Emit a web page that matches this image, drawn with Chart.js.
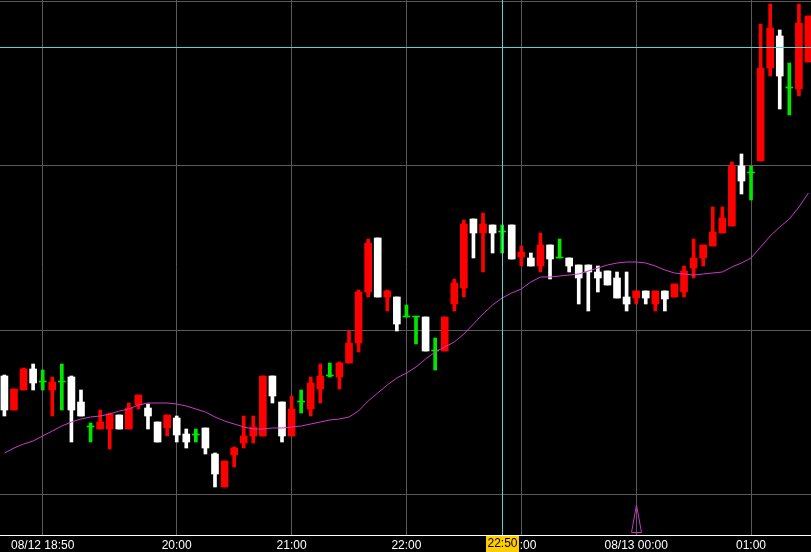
<!DOCTYPE html>
<html>
<head>
<meta charset="utf-8">
<script src="https://cdn.jsdelivr.net/npm/chart.js@4.4.1/dist/chart.umd.min.js"></script>
<style>
    html, body { margin: 0; padding: 0; background: #000; }
    canvas { display: block; background: #000; }
</style>
</head>
<body>
<canvas id="candleChart" width="811" height="552"></canvas>
<script>
// 5 minute candles, 08/12 18:30 -> 08/13 01:30
const opens = [
    115.9, 112.5, 114.5, 116.6, 115.3, 114.5, 115.3, 115.8, 113.3, 110.8,
    110.6, 110.6, 112.0, 110.6, 113.0, 112.7, 111.3, 110.7, 111.7, 110.1,
    110.0, 110.7, 108.1, 104.8, 108.0, 109.2, 109.9, 109.9, 115.9, 113.3,
    109.9, 113.3, 112.6, 114.6, 115.9, 115.8, 117.2, 119.2, 124.3, 129.7,
    123.8, 123.8, 121.8, 121.8, 121.8, 118.4, 118.4, 123.1, 124.7, 131.6,
    130.2, 131.0, 130.3, 131.0, 127.8, 127.7, 126.9, 129.0, 127.7, 127.7,
    127.0, 127.0, 126.3, 126.4, 125.7, 123.8, 123.7, 124.4, 123.1, 124.4,
    123.8, 124.3, 126.7, 127.7, 128.9, 130.2, 130.9, 136.9, 136.2, 137.4,
    146.7, 149.9, 144.7, 144.6, 147.3
];
const highs = [
    116.0, 114.6, 116.7, 117.1, 116.5, 115.8, 117.1, 115.9, 114.5, 111.2,
    112.5, 112.2, 112.0, 113.2, 114.0, 113.1, 111.3, 112.0, 111.9, 110.6,
    110.6, 110.7, 108.2, 107.4, 108.8, 111.9, 111.9, 115.9, 115.9, 113.3,
    113.9, 114.5, 115.8, 117.1, 117.2, 117.3, 120.4, 124.5, 129.6, 129.7,
    124.5, 123.8, 123.0, 121.8, 121.8, 119.7, 121.8, 125.6, 131.5, 131.6,
    132.2, 131.0, 131.0, 131.0, 128.9, 128.2, 130.2, 129.0, 129.6, 127.7,
    127.0, 127.0, 126.9, 126.4, 126.3, 126.3, 124.4, 124.4, 124.4, 124.4,
    125.1, 126.9, 129.6, 129.0, 132.8, 132.8, 137.3, 138.1, 136.9, 151.1,
    153.1, 150.5, 147.2, 153.1, 151.9
];
const lows = [
    111.9, 112.5, 114.5, 114.5, 114.5, 111.9, 112.5, 109.3, 111.9, 109.3,
    110.6, 108.6, 110.6, 110.6, 112.6, 110.6, 109.3, 109.9, 109.3, 108.7,
    109.3, 108.1, 104.8, 104.8, 106.8, 108.7, 109.2, 109.9, 113.2, 109.3,
    109.9, 112.2, 111.9, 113.2, 115.8, 114.6, 117.2, 118.3, 123.8, 123.8,
    122.4, 120.4, 121.8, 119.1, 118.4, 116.5, 118.4, 122.4, 123.8, 127.7,
    126.3, 128.2, 128.2, 127.6, 126.9, 126.9, 126.3, 125.6, 127.7, 126.3,
    123.1, 122.4, 124.3, 125.0, 123.7, 122.4, 123.1, 123.1, 122.4, 122.4,
    123.8, 123.8, 125.7, 126.9, 128.9, 130.2, 130.9, 134.1, 133.5, 137.4,
    145.9, 142.6, 142.0, 143.9, 147.3
];
const closes = [
    112.5, 114.6, 116.6, 115.2, 115.3, 115.3, 115.3, 112.5, 111.9, 110.8,
    111.3, 112.1, 110.6, 112.7, 114.0, 111.9, 109.3, 112.0, 110.0, 109.3,
    110.0, 108.7, 106.1, 107.4, 108.7, 109.9, 110.8, 115.9, 113.9, 109.9,
    112.6, 113.3, 115.2, 115.9, 115.9, 117.2, 119.2, 124.3, 129.2, 123.8,
    124.4, 121.1, 121.8, 121.8, 118.4, 118.4, 121.8, 125.2, 131.1, 130.2,
    131.1, 130.2, 130.3, 127.6, 128.3, 126.9, 129.0, 127.6, 127.7, 126.9,
    125.7, 126.3, 125.7, 125.0, 123.7, 123.1, 124.4, 123.7, 124.4, 123.6,
    125.1, 126.4, 127.7, 129.0, 130.3, 131.7, 136.9, 135.4, 136.2, 146.7,
    150.7, 145.9, 144.7, 151.2, 151.9
];
// moving average line
const ma = [
    108.2, 108.7, 109.1, 109.4, 109.9, 110.4, 110.9, 111.3, 111.6, 111.8,
    111.9, 112.1, 112.4, 112.6, 113.0, 113.2, 113.2, 113.2, 113.1, 112.9,
    112.6, 112.3, 111.8, 111.4, 111.1, 110.8, 110.6, 110.6, 110.7, 110.7,
    110.8, 110.9, 111.1, 111.3, 111.5, 111.6, 111.8, 112.4, 113.4, 114.2,
    115.0, 115.7, 116.2, 116.8, 117.6, 118.3, 118.8, 119.3, 120.1, 121.1,
    122.1, 123.0, 123.7, 124.2, 124.6, 125.3, 125.8, 125.8, 125.9, 126.0,
    126.1, 126.4, 126.7, 127.0, 127.2, 127.3, 127.3, 127.2, 126.9, 126.5,
    126.2, 126.1, 126.0, 126.1, 126.2, 126.3, 126.8, 127.2, 127.7, 128.8,
    129.9, 130.8, 131.6, 132.8, 134.2
];

const tickIndex = [4, 18, 30, 42, 54, 66, 78];
const tickLabels = ['08/12 18:50', '20:00', '21:00', '22:00', '23:00', '08/13 00:00', '01:00'];
const gridPrices = [104.1, 120.5, 136.9, 153.3];

const crossIndex = 52;
const crossPrice = 148.8;
const crossLabel = '22:50';
const markerIndex = [66];

const UP = '#ff0000';
const DOWN = '#ffffff';
const FLAT = '#00e600';
const GRID = '#5a5a5a';
const FONT = "'Liberation Sans', Arial, sans-serif";

const colors = opens.map((o, i) => closes[i] > o ? UP : (closes[i] < o ? DOWN : FLAT));

const overlay = {
    id: 'overlay',
    afterDraw(chart) {
        const ctx = chart.ctx;
        const area = chart.chartArea;
        const x = chart.scales.x;
        const y = chart.scales.y;

        // signal triangles
        ctx.save();
        ctx.strokeStyle = '#cc33cc';
        ctx.lineWidth = 1;
        markerIndex.forEach(function (i) {
            const px = Math.round(x.getPixelForValue(i)) + 0.5;
            ctx.beginPath();
            ctx.moveTo(px, area.bottom - 30);
            ctx.lineTo(px + 5, area.bottom - 2.5);
            ctx.lineTo(px - 5, area.bottom - 2.5);
            ctx.closePath();
            ctx.stroke();
        });
        ctx.restore();

        // crosshair
        const cx = Math.round(x.getPixelForValue(crossIndex)) + 0.5;
        const cy = Math.round(y.getPixelForValue(crossPrice)) + 0.5;
        ctx.save();
        ctx.strokeStyle = '#5fd3d3';
        ctx.lineWidth = 1;
        ctx.beginPath();
        ctx.moveTo(cx, area.top);
        ctx.lineTo(cx, area.bottom);
        ctx.moveTo(area.left, cy);
        ctx.lineTo(area.right, cy);
        ctx.stroke();

        ctx.fillStyle = '#ffcc00';
        ctx.fillRect(cx - 16.5, area.bottom + 1, 33, chart.height - area.bottom - 1);
        ctx.fillStyle = '#000';
        ctx.font = '12px ' + FONT;
        ctx.textAlign = 'center';
        ctx.textBaseline = 'top';
        ctx.fillText(crossLabel, cx, area.bottom + 3);
        ctx.restore();
    }
};

const ctx = document.getElementById('candleChart').getContext('2d');
const candleChart = new Chart(ctx, {
    type: 'bar',
    data: {
        datasets: [{
            type: 'line',
            data: ma.map((v, i) => ({ x: i, y: v })),
            borderColor: '#c83cc8',
            borderWidth: 1,
            pointRadius: 0,
            tension: 0,
            order: 0
        }, {
            data: opens.map((o, i) => ({ x: i, y: [o, closes[i]] })),
            backgroundColor: colors,
            barThickness: 7,
            minBarLength: 1,
            grouped: false,
            order: 1
        }, {
            data: lows.map((l, i) => ({ x: i, y: [l, highs[i]] })),
            backgroundColor: colors,
            barThickness: 3,
            grouped: false,
            order: 2
        }]
    },
    options: {
        responsive: false,
        devicePixelRatio: 1,
        animation: false,
        events: [],
        layout: { padding: 0, autoPadding: false },
        plugins: {
            legend: { display: false },
            tooltip: { enabled: false }
        },
        scales: {
            x: {
                type: 'linear',
                offset: false,
                min: -0.46,
                max: 84.265,
                afterBuildTicks: function (scale) {
                    scale.ticks = tickIndex.map(v => ({ value: v }));
                },
                afterFit: function (scale) { scale.height = 17; },
                ticks: {
                    autoSkip: false,
                    maxRotation: 0,
                    padding: 3,
                    color: '#ffffff',
                    font: { family: FONT, size: 12 },
                    callback: function (value) {
                        const k = tickIndex.indexOf(value);
                        return k >= 0 ? tickLabels[k] : '';
                    }
                },
                grid: { color: GRID, lineWidth: 1, drawTicks: false, offset: false },
                border: { display: true, color: '#ffffff', width: 1 }
            },
            y: {
                min: 100,
                max: 153.5,
                afterBuildTicks: function (scale) {
                    scale.ticks = gridPrices.map(v => ({ value: v }));
                },
                afterFit: function (scale) { scale.width = 0; },
                ticks: { display: false },
                grid: { color: GRID, lineWidth: 1, drawTicks: false },
                border: { display: false }
            }
        }
    },
    plugins: [overlay]
});
</script>
</body>
</html>
